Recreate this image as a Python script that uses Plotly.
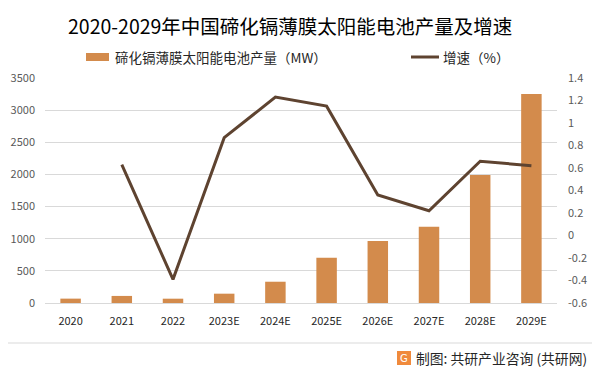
import plotly.graph_objects as go

categories = ["2020", "2021", "2022", "2023E", "2024E", "2025E", "2026E", "2027E", "2028E", "2029E"]
production = [68, 110, 67, 145, 331, 705, 965, 1188, 1992, 3250]
growth = [None, 0.63, -0.39, 0.87, 1.23, 1.15, 0.36, 0.22, 0.66, 0.62]

left_ticks = [0, 500, 1000, 1500, 2000, 2500, 3000, 3500]
right_ticks = [-0.6, -0.4, -0.2, 0, 0.2, 0.4, 0.6, 0.8, 1, 1.2, 1.4]
right_tick_labels = ["-0.6", "-0.4", "-0.2", "0", "0.2", "0.4", "0.6", "0.8", "1", "1.2", "1.4"]

bar_name = "碲化镉薄膜太阳能电池产量（MW）"
line_name = "增速（%）"
title_text = "2020-2029年中国碲化镉薄膜太阳能电池产量及增速"
footer_text = "制图: 共研产业咨询 (共研网)"

BAR_COLOR = "#D38B4C"
LINE_COLOR = "#5E4330"
FONT = "Noto Sans CJK SC"

W, H = 601, 372
L, R, T, B = 45, 44, 78, 69
PW, PH = W - L - R, H - T - B

def px(x):
    return (x - L) / PW

def py(y):
    return (H - B - y) / PH

fig = go.Figure()
fig.add_trace(go.Bar(x=categories, y=production, name=bar_name,
                     marker=dict(color=BAR_COLOR, line=dict(width=0)),
                     yaxis="y", showlegend=False))
fig.add_trace(go.Scatter(x=categories, y=growth, name=line_name, mode="lines",
                         line=dict(color=LINE_COLOR, width=3),
                         yaxis="y2", showlegend=False, connectgaps=False))

shapes = [
    dict(type="rect", xref="paper", yref="paper", x0=px(86), x1=px(109), y0=py(61), y1=py(53),
         fillcolor=BAR_COLOR, line=dict(width=0)),
    dict(type="line", xref="paper", yref="paper", x0=px(411), x1=px(439), y0=py(57), y1=py(57),
         line=dict(color=LINE_COLOR, width=3)),
    dict(type="line", xref="paper", yref="paper", x0=px(8), x1=px(592), y0=py(343), y1=py(343),
         line=dict(color="#D9D9D9", width=1)),
    dict(type="rect", xref="paper", yref="paper", x0=px(397), x1=px(411), y0=py(365), y1=py(351),
         fillcolor="#F08A3C", line=dict(width=0)),
]

annotations = [
    dict(text=title_text, xref="paper", yref="paper", x=px(290), y=py(25), showarrow=False,
         xanchor="center", yanchor="middle", font=dict(family=FONT, size=19.5, color="#000000")),
    dict(text=bar_name, xref="paper", yref="paper", x=px(113), y=py(57), showarrow=False,
         xanchor="left", yanchor="middle", font=dict(family=FONT, size=13.5, color="#262626")),
    dict(text=line_name, xref="paper", yref="paper", x=px(441), y=py(57), showarrow=False,
         xanchor="left", yanchor="middle", font=dict(family=FONT, size=13.5, color="#262626")),
    dict(text=footer_text, xref="paper", yref="paper", x=px(414), y=py(358), showarrow=False,
         xanchor="left", yanchor="middle", font=dict(family=FONT, size=13.8, color="#262626")),
    dict(text="G", xref="paper", yref="paper", x=px(404), y=py(358), showarrow=False,
         xanchor="center", yanchor="middle", font=dict(family="DejaVu Sans", size=10, color="#FFFFFF")),
]

fig.update_layout(
    width=W, height=H,
    margin=dict(l=L, r=R, t=T, b=B, autoexpand=False),
    paper_bgcolor="white", plot_bgcolor="white",
    bargap=0.6,
    xaxis=dict(type="category", showgrid=False, zeroline=False, showline=True,
               linecolor="#D9D9D9", linewidth=1, ticks="", automargin=False,
               ticklabelstandoff=8,
               tickfont=dict(family=FONT, size=11, color="#262626")),
    yaxis=dict(range=[0, 3500], tickvals=left_ticks, showgrid=True, gridcolor="#D9D9D9", gridwidth=1,
               zeroline=False, showline=False, ticks="", automargin=False,
               ticklabelstandoff=9,
               tickfont=dict(family=FONT, size=11, color="#595959")),
    yaxis2=dict(range=[-0.6, 1.4], tickvals=right_ticks, ticktext=right_tick_labels,
                overlaying="y", side="right", showgrid=False, automargin=False,
                zeroline=False, showline=False, ticks="", ticklabelstandoff=10,
                tickfont=dict(family=FONT, size=11, color="#595959")),
    shapes=shapes, annotations=annotations, showlegend=False,
)

fig.write_html("out.html", config={"displayModeBar": False},
               post_script="document.body.style.margin='0';document.body.style.overflow='hidden';")
